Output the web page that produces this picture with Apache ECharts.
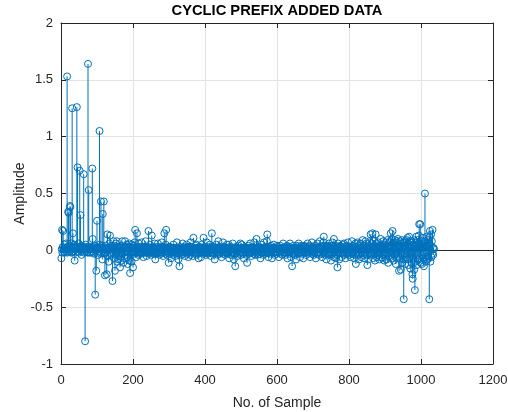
<!DOCTYPE html>
<html>
<head>
<meta charset="utf-8">
<script src="https://cdn.jsdelivr.net/npm/echarts@6/dist/echarts.min.js"></script>
<style>
html,body{margin:0;padding:0;background:#fff;}
#chart{width:508px;height:412px;}
</style>
</head>
<body>
<div id="chart"></div>
<script>
// ---- data ----
const chartTitle = 'CYCLIC PREFIX ADDED DATA';
const xAxisName = 'No. of Sample';
const yAxisName = 'Amplitude';
const sampleStart = 1;
const xTicks = [0, 200, 400, 600, 800, 1000, 1200];
const yTicks = [-1, -0.5, 0, 0.5, 1, 1.5, 2];

// samples 1-140
const prefixValues = [
-0.07,0.01,0.18,-0.02,0.03,0.17,0.01,-0.01,0.02,0.05,-0.02,0.01,0.06,-0.01,0.02,0.01,1.53,-0.02,0.03,0.34,
0.33,0.02,-0.01,0.04,0.39,0.38,0.02,-0.02,0.06,0.01,1.25,-0.02,0.15,0.03,-0.01,0.02,0.05,-0.09,0.01,0.02,
-0.02,0.03,0.01,1.26,0.02,0.73,-0.01,0.03,0.06,-0.02,0.01,0.70,0.03,0.31,0.01,0.02,-0.04,0.04,0.01,-0.01,
0.02,0.03,0.67,-0.02,0.01,0.02,-0.80,0.02,0.05,-0.01,0.01,0.03,-0.02,0.01,1.64,0.02,0.53,-0.02,0.02,0.01,
0.03,-0.02,0.01,0.02,-0.01,0.02,0.72,0.10,-0.02,0.03,0.01,-0.03,0.02,0.04,-0.39,0.01,0.01,-0.18,0.02,0.26,
0.02,-0.04,0.01,0.03,-0.01,0.05,1.05,0.02,-0.03,0.01,0.43,-0.02,0.04,0.01,-0.08,0.32,0.02,-0.02,0.43,0.02,
-0.03,-0.22,0.01,0.04,-0.02,0.01,-0.21,0.02,0.14,-0.05,0.01,-0.10,0.02,0.06,-0.02,0.13,0.01,-0.03,0.04,0.02
];
// samples 141-940
const bodyValues = [
0.02,-0.04,-0.27,0.03,-0.02,0.08,-0.07,0.01,0.04,-0.18,0.02,-0.03,0.06,-0.01,0.08,-0.10,0.02,-0.02,0.03,-0.08,
0.02,-0.05,0.03,-0.15,0.01,-0.02,0.04,-0.09,0.02,0.08,-0.03,0.02,-0.11,0.01,0.03,-0.02,-0.07,0.08,0.02,-0.04,
0.03,-0.01,0.05,-0.06,-0.12,0.02,-0.02,0.03,-0.09,0.06,0.01,-0.20,0.03,-0.02,0.02,-0.10,0.05,-0.01,0.02,-0.15,
0.02,-0.03,0.04,-0.01,0.07,0.18,-0.02,0.01,-0.06,0.03,0.15,-0.02,0.02,-0.04,0.01,0.06,-0.03,0.02,-0.01,0.03,
-0.02,0.01,0.07,-0.03,0.01,-0.02,0.02,0.03,-0.06,0.01,-0.01,0.03,-0.02,0.01,0.08,-0.02,0.02,-0.05,0.01,0.02,
-0.02,0.03,0.17,-0.03,0.01,-0.01,0.05,-0.02,0.01,0.02,-0.04,0.13,0.02,-0.02,0.03,-0.01,0.02,-0.03,0.01,0.06,
-0.02,-0.08,0.02,0.01,-0.03,0.03,0.01,-0.01,0.06,-0.02,0.01,0.02,-0.04,0.01,0.02,-0.02,0.03,-0.03,0.01,0.07,
-0.02,0.01,0.03,-0.05,0.01,0.02,0.15,-0.02,0.02,-0.03,0.05,0.18,-0.01,0.02,-0.04,0.02,0.01,-0.02,-0.11,0.03,
0.01,-0.03,0.03,-0.01,0.02,-0.07,0.01,0.02,-0.02,0.01,-0.04,0.05,0.02,-0.02,0.01,0.02,-0.05,0.01,-0.01,0.02,
-0.03,0.07,0.01,-0.02,0.02,-0.08,0.01,0.02,-0.14,0.01,0.03,-0.02,0.01,-0.04,0.02,0.01,-0.02,0.06,-0.03,0.01,
0.02,-0.01,0.03,-0.05,0.01,0.02,-0.02,0.01,0.05,-0.03,0.02,-0.01,0.03,-0.06,0.02,0.01,-0.02,0.03,-0.04,0.07,
0.01,-0.02,0.03,-0.01,0.02,-0.05,0.01,0.11,-0.02,0.02,0.01,-0.03,0.04,-0.02,0.02,0.05,-0.04,0.01,0.02,-0.02,
0.01,-0.07,0.02,0.01,-0.02,0.03,-0.01,0.02,-0.06,0.01,0.05,-0.02,0.01,0.02,-0.03,0.11,0.01,-0.01,0.03,-0.02,
0.01,0.02,-0.04,0.01,0.07,-0.02,0.02,-0.03,0.01,0.03,-0.02,0.01,0.05,-0.01,0.02,-0.05,0.01,0.02,0.15,-0.02,
0.03,-0.03,0.01,0.03,-0.02,0.02,-0.08,0.01,0.02,-0.01,0.05,-0.02,0.01,0.02,-0.04,0.01,0.08,-0.02,0.02,-0.03,
0.03,0.01,-0.02,0.02,0.01,-0.06,0.02,0.01,-0.02,0.07,-0.03,0.01,0.03,-0.01,0.02,-0.04,0.01,0.02,-0.02,0.01,
0.05,-0.02,0.02,-0.03,0.01,0.05,-0.07,0.01,0.03,-0.01,0.02,-0.04,0.01,0.02,-0.02,0.01,0.06,-0.02,0.01,-0.08,
0.02,0.01,-0.03,-0.14,0.02,0.03,-0.02,0.01,0.02,-0.05,0.01,0.02,-0.01,0.04,-0.03,0.01,-0.02,0.06,0.01,-0.04,
0.02,0.05,-0.02,0.01,-0.03,0.02,0.01,-0.07,0.02,0.01,-0.02,0.03,0.01,-0.01,0.02,-0.04,-0.11,0.02,0.01,0.04,
-0.02,0.02,-0.03,0.01,0.06,-0.02,0.01,0.02,-0.05,0.01,0.02,-0.02,0.03,0.01,-0.03,0.02,0.07,-0.01,0.01,-0.04,
0.02,0.01,0.10,-0.02,0.01,-0.04,0.02,0.01,-0.01,0.03,-0.03,0.02,0.01,-0.07,0.02,0.01,-0.02,0.05,-0.02,0.01,
0.02,-0.04,0.01,0.07,-0.01,0.02,-0.03,0.03,0.01,-0.02,0.02,0.08,0.14,-0.02,0.01,-0.06,0.02,0.01,-0.02,0.03,
-0.03,0.01,0.04,-0.01,0.02,-0.07,0.01,0.02,-0.02,0.01,0.05,-0.02,0.02,-0.04,0.01,0.02,-0.01,0.01,-0.03,0.04,
0.01,-0.02,0.03,0.01,-0.06,0.02,0.01,-0.02,0.04,-0.03,0.01,0.02,-0.01,0.02,-0.04,0.01,0.06,-0.02,0.01,0.02,
-0.02,0.02,-0.04,0.01,0.03,-0.02,0.01,0.04,-0.07,0.01,0.02,-0.02,0.03,-0.03,0.01,0.06,-0.01,0.02,-0.06,0.01,
0.02,-0.14,0.01,0.02,-0.03,0.04,-0.02,0.01,0.02,-0.04,0.01,0.02,-0.08,0.01,0.04,-0.01,0.02,-0.03,0.01,0.06,
-0.02,0.01,0.03,-0.06,0.01,0.02,-0.02,0.04,0.01,-0.03,0.02,0.01,-0.07,0.03,-0.01,0.04,0.01,-0.02,0.01,0.03,
-0.04,0.01,0.02,-0.01,0.06,-0.03,0.01,0.01,-0.02,0.04,0.01,-0.06,0.03,0.01,-0.02,0.02,0.07,-0.03,0.01,-0.01,
0.03,-0.04,0.01,0.02,-0.02,0.04,0.01,-0.07,0.02,0.01,-0.03,0.06,0.01,-0.02,0.03,0.01,-0.04,0.02,0.08,-0.02,
0.01,-0.03,0.04,0.01,-0.06,0.02,0.03,-0.02,0.07,0.12,-0.02,0.01,0.04,-0.04,0.01,0.03,-0.08,0.02,0.01,-0.03,
0.04,0.01,-0.02,0.06,-0.04,0.01,0.03,-0.02,0.02,-0.09,0.04,0.01,-0.03,0.07,0.01,-0.02,0.03,0.10,-0.06,0.01,
-0.02,0.04,0.02,-0.07,0.03,0.01,-0.04,-0.15,0.02,0.06,-0.02,0.03,-0.08,0.01,0.04,-0.02,0.01,0.03,-0.06,0.02,
0.01,-0.03,0.05,0.01,-0.02,0.06,-0.04,0.01,0.03,-0.07,0.02,0.01,-0.02,0.04,-0.03,0.01,0.07,-0.02,0.01,0.03,
-0.04,0.02,0.01,-0.06,0.03,0.01,-0.02,0.08,0.01,-0.03,0.04,-0.02,0.02,-0.07,0.01,0.03,-0.04,0.06,-0.12,0.01,
0.03,-0.02,0.01,0.07,-0.04,0.01,0.04,-0.08,0.02,0.01,-0.03,0.06,0.01,-0.06,0.03,0.02,-0.02,0.09,-0.04,0.01,
0.04,-0.07,0.02,0.01,-0.03,0.08,-0.02,0.01,0.06,-0.04,-0.13,0.03,0.01,-0.08,0.04,0.01,-0.02,0.07,-0.03,0.14,
0.02,-0.04,0.06,-0.02,0.15,0.03,-0.07,0.01,0.08,-0.03,0.04,-0.09,0.02,0.14,-0.02,0.06,-0.06,0.01,0.03,-0.04,
0.07,-0.02,0.03,-0.08,0.01,0.04,-0.03,0.10,0.02,-0.06,0.04,0.01,-0.07,0.03,0.08,-0.02,0.01,-0.09,0.05,0.02,
-0.04,0.07,0.01,-0.08,0.03,0.09,-0.03,0.02,-0.11,0.04,0.07,-0.02,0.01,-0.06,0.08,0.15,-0.04,0.03,0.10,-0.07,
0.17,-0.03,0.06,-0.09,0.02,0.07,-0.04,0.09,0.01,-0.12,0.04,-0.02,0.08,-0.07,0.03,0.10,-0.05,0.02,-0.18,0.04
];
// samples 941-1036
const tailValues = [
-0.07,0.08,0.03,-0.17,0.06,-0.04,0.09,-0.11,0.04,0.02,-0.08,-0.43,0.07,-0.03,0.04,-0.12,0.08,0.01,-0.06,0.09,
-0.03,0.11,-0.08,0.05,-0.13,0.03,0.12,-0.06,0.02,-0.16,0.07,-0.02,0.08,-0.11,0.04,-0.21,-0.25,0.05,-0.07,0.09,
-0.17,0.04,-0.35,0.07,-0.10,0.03,0.12,-0.13,0.05,-0.04,0.09,-0.08,0.03,0.13,0.23,-0.07,0.04,0.23,-0.11,0.06,
-0.04,0.08,-0.12,0.03,0.11,-0.07,0.04,-0.14,0.07,0.02,0.50,-0.06,0.08,-0.10,0.04,0.12,-0.08,0.03,-0.05,0.09,
-0.07,0.06,-0.43,0.12,0.17,-0.10,0.04,0.14,-0.06,0.08,-0.03,0.18,0.02,-0.04,0.02,0.01
];

// ---- chart ----
const amplitude = prefixValues.concat(bodyValues, tailValues);
const points = amplitude.map((v, i) => [sampleStart + i, v]);

const stemColor = '#0072BD';
const axisColor = '#262626';
const gridColor = '#e3e3e3';
const fontFamily = '"Liberation Sans", Arial, Helvetica, sans-serif';

const chart = echarts.init(document.getElementById('chart'), null, {renderer: 'canvas'});

const xMin = xTicks[0], xMax = xTicks[xTicks.length - 1];
const yMin = yTicks[0], yMax = yTicks[yTicks.length - 1];
const xStep = xTicks[1] - xTicks[0], yStep = yTicks[1] - yTicks[0];

function baseX(extra) {
  return Object.assign({
    type: 'value', min: xMin, max: xMax, interval: xStep,
    axisLine: {show: true, onZero: false, lineStyle: {color: axisColor, width: 1}},
    axisTick: {show: true, inside: true, length: 5, lineStyle: {color: axisColor}},
    splitLine: {show: false}
  }, extra);
}
function baseY(extra) {
  return Object.assign({
    type: 'value', min: yMin, max: yMax, interval: yStep,
    axisLine: {show: true, onZero: false, lineStyle: {color: axisColor, width: 1}},
    axisTick: {show: true, inside: true, length: 5, lineStyle: {color: axisColor}},
    splitLine: {show: false}
  }, extra);
}

chart.setOption({
  animation: false,
  backgroundColor: '#ffffff',
  textStyle: {fontFamily: fontFamily},
  title: {
    text: chartTitle,
    left: 277, top: 3, padding: 0, textAlign: 'center',
    textStyle: {fontSize: 14.7, fontWeight: 'bold', color: '#000', fontFamily: fontFamily}
  },
  grid: {left: 61, right: 15, top: 23, bottom: 48, containLabel: false, outerBoundsMode: 'none'},
  xAxis: [
    baseX({
      position: 'bottom',
      name: xAxisName, nameLocation: 'middle', nameGap: 32, nameMoveOverlap: false,
      nameTextStyle: {fontSize: 14, color: axisColor, fontFamily: fontFamily},
      axisLabel: {show: true, color: axisColor, fontSize: 13, margin: 10, fontFamily: fontFamily,
                  formatter: function (v) { return String(v); }},
      splitLine: {show: true, lineStyle: {color: gridColor, width: 1}}
    }),
    baseX({position: 'top', axisLabel: {show: false}})
  ],
  yAxis: [
    baseY({
      position: 'left',
      name: yAxisName, nameLocation: 'middle', nameGap: 34, nameMoveOverlap: false,
      nameTextStyle: {fontSize: 14, color: axisColor, fontFamily: fontFamily},
      axisLabel: {show: true, color: axisColor, fontSize: 13, margin: 8, fontFamily: fontFamily,
                  formatter: function (v) { return String(v); }},
      splitLine: {show: true, lineStyle: {color: gridColor, width: 1}}
    }),
    baseY({position: 'right', axisLabel: {show: false}})
  ],
  series: [
    {
      type: 'custom',
      xAxisIndex: 0, yAxisIndex: 0,
      data: points,
      z: 2,
      renderItem: function (params, api) {
        const x = api.value(0), y = api.value(1);
        const p0 = api.coord([x, 0]);
        const p1 = api.coord([x, y]);
        return {
          type: 'line',
          shape: {x1: p0[0], y1: p0[1], x2: p1[0], y2: p1[1]},
          style: {stroke: stemColor, lineWidth: 1}
        };
      },
      markLine: {
        silent: true, symbol: 'none', z: 1,
        label: {show: false},
        lineStyle: {color: axisColor, type: 'solid', width: 1},
        data: [{yAxis: 0}]
      }
    },
    {
      type: 'scatter',
      xAxisIndex: 0, yAxisIndex: 0,
      data: points,
      z: 3,
      symbol: 'circle',
      symbolSize: 7,
      itemStyle: {color: 'rgba(0,0,0,0)', borderColor: stemColor, borderWidth: 1, opacity: 1}
    }
  ]
});
</script>
</body>
</html>
